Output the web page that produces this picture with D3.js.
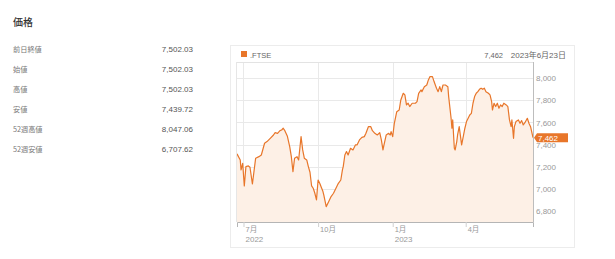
<!DOCTYPE html>
<html><head><meta charset="utf-8">
<script src="https://cdn.jsdelivr.net/npm/d3@7"></script>
<style>
body{margin:0;background:#fff;}
svg{font-family:"Liberation Sans","Noto Sans CJK JP",sans-serif;}
</style></head><body>
<svg id="c" width="615" height="259"></svg>
<script>
const title = "価格";
const statLabels = ["前日終値","始値","高値","安値","52週高値","52週安値"];
const statValues = ["7,502.03","7,502.03","7,502.03","7,439.72","8,047.06","6,707.62"];
const seriesName = ".FTSE";
const lastValueLabel = "7,462";
const lastDateLabel = "2023年6月23日";
const dates = ["2022-06-23","2022-06-27","2022-06-28","2022-06-30","2022-07-02","2022-07-04","2022-07-07","2022-07-09","2022-07-12","2022-07-16","2022-07-20","2022-07-23","2022-07-27","2022-07-30","2022-08-03","2022-08-07","2022-08-09","2022-08-12","2022-08-15","2022-08-17","2022-08-19","2022-08-21","2022-08-24","2022-08-27","2022-08-29","2022-08-31","2022-09-02","2022-09-05","2022-09-07","2022-09-10","2022-09-12","2022-09-14","2022-09-17","2022-09-19","2022-09-21","2022-09-23","2022-09-25","2022-09-27","2022-09-29","2022-10-01","2022-10-03","2022-10-07","2022-10-08","2022-10-11","2022-10-14","2022-10-17","2022-10-20","2022-10-23","2022-10-26","2022-10-29","2022-10-31","2022-11-01","2022-11-03","2022-11-05","2022-11-07","2022-11-10","2022-11-13","2022-11-16","2022-11-18","2022-11-21","2022-11-24","2022-11-27","2022-11-29","2022-12-02","2022-12-05","2022-12-07","2022-12-10","2022-12-13","2022-12-16","2022-12-18","2022-12-20","2022-12-21","2022-12-24","2022-12-27","2022-12-29","2022-12-30","2023-01-01","2023-01-03","2023-01-06","2023-01-09","2023-01-11","2023-01-14","2023-01-16","2023-01-18","2023-01-20","2023-01-22","2023-01-25","2023-01-29","2023-01-31","2023-02-02","2023-02-05","2023-02-06","2023-02-09","2023-02-12","2023-02-14","2023-02-16","2023-02-19","2023-02-21","2023-02-24","2023-02-26","2023-02-28","2023-03-02","2023-03-04","2023-03-07","2023-03-10","2023-03-11","2023-03-14","2023-03-15","2023-03-16","2023-03-18","2023-03-19","2023-03-21","2023-03-22","2023-03-24","2023-03-27","2023-03-29","2023-03-31","2023-04-02","2023-04-04","2023-04-06","2023-04-08","2023-04-10","2023-04-12","2023-04-14","2023-04-16","2023-04-18","2023-04-20","2023-04-22","2023-04-24","2023-04-26","2023-04-29","2023-05-01","2023-05-03","2023-05-04","2023-05-06","2023-05-08","2023-05-10","2023-05-12","2023-05-14","2023-05-16","2023-05-18","2023-05-21","2023-05-23","2023-05-25","2023-05-27","2023-05-28","2023-05-30","2023-05-31","2023-06-02","2023-06-05","2023-06-07","2023-06-09","2023-06-11","2023-06-13","2023-06-16","2023-06-18","2023-06-20","2023-06-23"];
const closes = [7316,7261,7171,7231,7026,7201,7207,7195,7044,7277,7291,7306,7412,7427,7457,7487,7508,7502,7526,7532,7548,7526,7478,7382,7291,7156,7277,7291,7261,7472,7352,7277,7261,7201,7150,7026,7005,6960,6900,7080,7050,6975,6945,6839,6884,6930,6960,7005,7050,7080,7171,7201,7306,7337,7306,7367,7352,7397,7397,7442,7466,7472,7502,7562,7562,7526,7502,7487,7508,7442,7352,7388,7487,7502,7487,7517,7472,7593,7698,7713,7804,7864,7849,7759,7774,7744,7774,7774,7789,7864,7894,7879,7924,7939,7985,8015,8015,7970,7910,7879,7924,7879,7939,7939,7924,7834,7638,7548,7623,7367,7352,7427,7487,7562,7397,7472,7548,7608,7638,7668,7683,7774,7834,7864,7879,7900,7910,7900,7910,7879,7864,7849,7789,7713,7774,7744,7774,7729,7759,7744,7774,7759,7744,7623,7562,7623,7457,7562,7608,7623,7593,7617,7578,7598,7638,7593,7562,7462];
const yTicks = [6800,7000,7200,7400,7600,7800,8000];
const xTickDates = ["2022-07-01","2022-10-01","2023-01-01","2023-04-01"];
const xTickMonths = ["7月","10月","1月","4月"];
const xTickYears = ["2022","","2023",""];

const parse = d3.timeParse("%Y-%m-%d");
const data = dates.map((d,i)=>({date:parse(d), v:closes[i]}));
const svg = d3.select("#c");

// left panel
svg.append("text").attr("x",13).attr("y",26).attr("font-size",10).attr("fill","#333")
  .attr("font-family","Noto Sans CJK JP").attr("font-weight",500).text(title);
statLabels.forEach((l,i)=>{
  const y = 52.3 + i*19.9;
  svg.append("text").attr("x",13).attr("y",y).attr("font-size",7.2).attr("fill","#777")
    .attr("font-family","Noto Sans CJK JP").text(l);
  svg.append("text").attr("x",193).attr("y",y).attr("font-size",8).attr("fill","#555")
    .attr("text-anchor","end").text(statValues[i]);
});

// chart box
svg.append("rect").attr("x",230.5).attr("y",45.5).attr("width",344).attr("height",202)
  .attr("fill","#fff").attr("stroke","#ececec");

const L=237, R=533, T=62, B=222;
const x = d3.scaleTime().domain([parse("2022-06-23"), parse("2023-06-23")]).range([L,R]);
const y = d3.scaleLinear().domain([6700,8147]).range([B,T]);

// gridlines
const g = svg.append("g");
g.selectAll("line.h").data(yTicks).join("line").attr("x1",L).attr("x2",R)
  .attr("y1",d=>Math.round(y(d))+0.5).attr("y2",d=>Math.round(y(d))+0.5).attr("stroke","#e9e9e9");
g.selectAll("line.v").data(xTickDates).join("line")
  .attr("x1",d=>Math.round(x(parse(d)))+0.5).attr("x2",d=>Math.round(x(parse(d)))+0.5)
  .attr("y1",T).attr("y2",B).attr("stroke","#e9e9e9");

// area + line
svg.append("path").datum(data).attr("fill","#fdf0e6")
  .attr("d", d3.area().x(d=>x(d.date)).y0(B).y1(d=>y(d.v)));
svg.append("path").datum(data).attr("fill","none").attr("stroke","#e8762a").attr("stroke-width",1.2)
  .attr("stroke-linejoin","round")
  .attr("d", d3.line().x(d=>x(d.date)).y(d=>y(d.v)));

// plot frame
svg.append("line").attr("x1",L).attr("x2",R).attr("y1",T+0.5).attr("y2",T+0.5).attr("stroke","#e3e3e3");
svg.append("line").attr("x1",L-0.5).attr("x2",L-0.5).attr("y1",T).attr("y2",B).attr("stroke","#e6e6e6");
svg.append("line").attr("x1",R+0.5).attr("x2",R+0.5).attr("y1",T).attr("y2",B).attr("stroke","#bdbdbd");

// x axis
const xa = svg.append("g").attr("transform",`translate(0,${B})`)
  .call(d3.axisBottom(x).tickValues(xTickDates.map(parse)).tickSize(5).tickFormat(""));
xa.select(".domain").attr("stroke","#b5b5b5");
xa.selectAll(".tick line").attr("stroke","#d0d0d0");
xTickDates.forEach((d,i)=>{
  const px = x(parse(d))+2;
  svg.append("text").attr("x",px).attr("y",232).attr("font-size",7.5).attr("fill","#999").text(xTickMonths[i]);
  if (xTickYears[i]) svg.append("text").attr("x",px).attr("y",242).attr("font-size",8).attr("fill","#999").text(xTickYears[i]);
});

// y axis labels
const ya = svg.append("g").attr("transform",`translate(${R},0)`)
  .call(d3.axisRight(y).tickValues(yTicks).tickSize(0).tickPadding(3).tickFormat(d3.format(",")));
ya.select(".domain").remove();
ya.selectAll("text").attr("font-size",8).attr("fill","#999").attr("font-family","Liberation Sans");

// last value tag
const last = data[data.length-1];
const ty = y(last.v);
svg.append("path").attr("fill","#e8762a")
  .attr("d",`M${R+1},${ty} L${R+4},${ty-4.5} L${R+35},${ty-4.5} L${R+35},${ty+4.5} L${R+4},${ty+4.5} Z`);
svg.append("text").attr("x",R+5).attr("y",ty+3).attr("font-size",8).attr("fill","#fff").text(lastValueLabel);

// legend
svg.append("rect").attr("x",241).attr("y",51).attr("width",6).attr("height",6).attr("fill","#e8762a");
svg.append("text").attr("x",250).attr("y",57.5).attr("font-size",7.5).attr("fill","#666").text(seriesName);
svg.append("text").attr("x",503).attr("y",57.5).attr("font-size",7.5).attr("fill","#666").attr("text-anchor","end").text(lastValueLabel);
svg.append("text").attr("x",566).attr("y",57.5).attr("font-size",8).attr("fill","#666").attr("text-anchor","end").text(lastDateLabel);
</script>
</body></html>
